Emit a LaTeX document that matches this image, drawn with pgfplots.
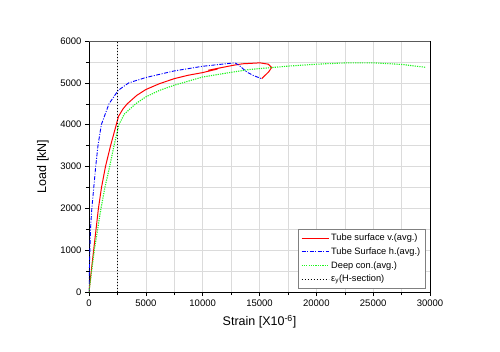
\documentclass[border=0pt]{standalone}
\usepackage{fontspec}
\setmainfont{Liberation Sans}
\usepackage{pgfplots}
\pgfplotsset{compat=1.18}
\definecolor{lgreen}{RGB}{30,245,30}
\pgfplotsset{
  mylegend/.style={legend image code/.code={\draw[##1] (0pt,0pt) -- (27pt,0pt);}},
}
\begin{document}
\begin{tikzpicture}
\begin{axis}[
  at={(0,0)}, anchor=south west,
  scale only axis, width=341pt, height=251pt,
  xmin=0, xmax=30000, ymin=0, ymax=6000,
  xtick={0,5000,...,30000}, ytick={0,1000,...,6000},
  minor xtick={2500,7500,...,27500}, minor ytick={500,1500,...,5500},
  grid=both, major grid style={gray!28}, minor grid style={gray!28},
  tick align=outside, tick pos=left,
  major tick length=4pt, minor tick length=3pt,
  every tick/.style={black},
  scaled ticks=false,
  /pgf/number format/assume math mode=true,
  xticklabel style={/pgf/number format/1000 sep={}},
  yticklabel style={/pgf/number format/1000 sep={}},
  ticklabel style={font=\fontsize{9.5}{11}\selectfont},
  xlabel={Strain [X10\textsuperscript{-6}]}, ylabel={Load [kN]},
  label style={font=\fontsize{12.5}{14}\selectfont},
  xlabel style={at={(axis description cs:0.5,-0.1195)}, anchor=center},
  ylabel style={at={(axis description cs:-0.135,0.5)}, anchor=center},
  legend style={at={(axis description cs:1,0)}, anchor=south east, xshift=-5pt, yshift=4pt,
    font=\fontsize{9.25}{11}\selectfont, draw=gray, cells={anchor=west}, row sep=1.5pt, inner sep=2.5pt},
  mylegend,
]
\addplot[red, line width=1pt] coordinates {
(0,0) (200,500) (410,1000) (620,1500) (830,2000) (1100,2500) (1450,3000) (1900,3500)
(2400,4000) (2600,4200) (3000,4380) (3370,4500) (4200,4700) (5000,4840) (6200,4980)
(7500,5100) (8700,5180) (10000,5245) (11300,5330) (10500,5300) (11300,5345) (12700,5420)
(13500,5455) (15040,5478) (15780,5446) (16070,5367) (15800,5260) (15190,5100)};
\addlegendentry{Tube surface v.(avg.)}
\addplot[blue, line width=0.9pt, dash pattern=on 4pt off 1.5pt on 1pt off 1.5pt] coordinates {
(0,0) (30,500) (80,1000) (130,1500) (250,2000) (420,2500) (590,3000) (790,3500)
(1085,4000) (1760,4500) (2580,4823) (3500,5000) (5000,5127) (7500,5285) (10000,5396)
(12000,5455) (12845,5478) (13200,5420) (13870,5260) (14500,5170) (15190,5100)};
\addlegendentry{Tube Surface h.(avg.)}
\addplot[lgreen, line width=1.1pt, dash pattern=on 1.2pt off 1.1pt] coordinates {
(0,0) (230,500) (470,1000) (760,1500) (1055,2000) (1400,2500) (1820,3000) (2200,3500)
(2630,4000) (3100,4250) (4110,4500) (5000,4665) (6200,4820) (7500,4943) (10000,5140)
(12700,5260) (14164,5320) (17536,5400) (20030,5446) (22670,5478)
(25010,5478) (27500,5440) (29650,5370)};
\addlegendentry{Deep con.(avg.)}
\addplot[black, line width=0.8pt, dash pattern=on 0.8pt off 2.2pt] coordinates {(2500,0) (2500,6000)};
\addlegendentry{ε\textsubscript{y}(H-section)}
\draw[gray!70!black, line width=1.2pt] (rel axis cs:0,1) -- (rel axis cs:1,1);
\end{axis}
\pgfresetboundingbox
\path (-89pt,-59pt) rectangle (411pt,292pt);
\end{tikzpicture}
\end{document}
